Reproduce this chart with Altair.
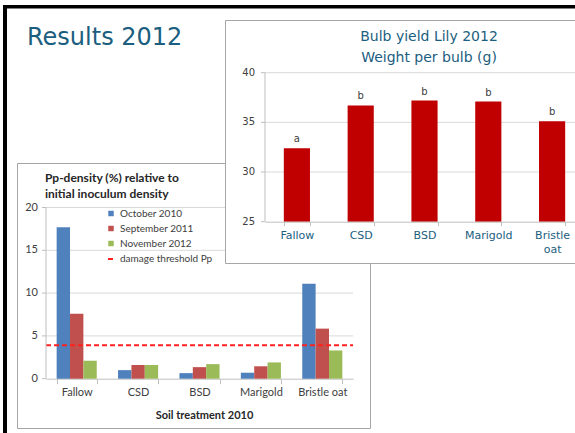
import altair as alt
import pandas as pd

# ---------------- data ----------------
pp_categories = ["Fallow", "CSD", "BSD", "Marigold", "Bristle oat"]
pp_series = ["October 2010", "September 2011", "November 2012"]
pp_oct_2010 = [17.7, 1.0, 0.65, 0.7, 11.1]
pp_sep_2011 = [7.6, 1.6, 1.35, 1.45, 5.85]
pp_nov_2012 = [2.1, 1.6, 1.7, 1.9, 3.3]
pp_threshold_label = ["damage threshold Pp"]
pp_threshold = [3.9]
pp_y_ticks = [0, 5, 10, 15, 20]
pp_colors = ["#4F81BD", "#C0504D", "#9BBB59"]

bulb_categories = ["Fallow", "CSD", "BSD", "Marigold", "Bristle oat"]
bulb_weight = [32.4, 36.7, 37.2, 37.1, 35.1]
bulb_letters = ["a", "b", "b", "b", "b"]
bulb_y_ticks = [25, 30, 35, 40]

# ---------------- layout (pixels) ----------------
W, H = 575, 433
PP_X0, PP_X1 = 46, 353
PP_YB, PP_YT = 378.7, 207.5
BU_X0, BU_X1 = 265, 584
BU_YB, BU_YT = 221.7, 72.7

TEAL = "#1B5E80"
GRID = "#D9D9D9"
AX = "#BFBFBF"
BOX = "#A6A6A6"

one = alt.Data(values=[{}])


def rect(x, x2, y, y2, fill, stroke=None):
    kw = dict(fill=fill)
    if stroke:
        kw.update(stroke=stroke, strokeWidth=1)
    return alt.Chart(one).mark_rect(**kw).encode(
        x=alt.value(x), x2=alt.value(x2), y=alt.value(y), y2=alt.value(y2))


def label(txt, x, y, font, size, color, weight="normal", align="left"):
    return alt.Chart(one).mark_text(
        text=txt, font=font, fontSize=size, color=color, fontWeight=weight,
        align=align, baseline="middle").encode(x=alt.value(x), y=alt.value(y))


def y_axis_layers(ticks, scale, x_axis, label_x, font, size):
    """Left value axis drawn through the chart's own y scale."""
    tdf = pd.DataFrame({"v": ticks})
    ticks_l = alt.Chart(tdf).mark_rule(color=AX, strokeWidth=1).encode(
        y=alt.Y("v:Q", scale=scale, axis=None),
        x=alt.value(x_axis - 4), x2=alt.value(x_axis))
    dom = alt.Chart(pd.DataFrame({"a": [min(ticks)], "b": [max(ticks)]})).mark_rule(
        color=AX, strokeWidth=1).encode(
        y=alt.Y("a:Q", scale=scale, axis=None), y2="b:Q", x=alt.value(x_axis))
    labs = alt.Chart(tdf).mark_text(
        align="right", baseline="middle", font=font, fontSize=size,
        color="#404040").encode(
        y=alt.Y("v:Q", scale=scale, axis=None), x=alt.value(label_x),
        text=alt.Text("v:Q"))
    return [ticks_l, dom, labs]


# ---------------- slide decoration ----------------
black_left = rect(3, 7, 5, H, "black")
black_top = rect(3, W, 5, 8.5, "black")
results = alt.Chart(one).mark_text(
    text="Results 2012", font="DejaVu Sans", fontSize=24, color=TEAL,
    align="left", baseline="alphabetic").encode(x=alt.value(27), y=alt.value(45))

# ---------------- Pp-density chart ----------------
pp_box = alt.Chart(one).mark_rect(fill=None, stroke=BOX, strokeWidth=1).encode(
    x=alt.value(17.5), x2=alt.value(370.5), y=alt.value(163.5), y2=alt.value(428.5))
pp_t1 = label("Pp-density (%) relative to", 45, 177.5, "Lato", 12, "#262626", "bold")
pp_t2 = label("initial inoculum density", 45, 193.5, "Lato", 12, "#262626", "bold")

pp_rows = []
for i, c in enumerate(pp_categories):
    for s, vals in zip(pp_series, [pp_oct_2010, pp_sep_2011, pp_nov_2012]):
        pp_rows.append({"category": c, "series": s, "value": vals[i]})
pp_df = pd.DataFrame(pp_rows)

pp_y_scale = alt.Scale(domain=[0, 20], range=[PP_YB, PP_YT], nice=False)

pp_grid = alt.Chart(pd.DataFrame({"v": pp_y_ticks[1:]})).mark_rule(
    color=GRID, strokeWidth=1).encode(
    y=alt.Y("v:Q", scale=pp_y_scale, axis=None),
    x=alt.value(PP_X0), x2=alt.value(PP_X1))

pp_bars = alt.Chart(pp_df).mark_bar().encode(
    x=alt.X("category:N", sort=pp_categories,
            scale=alt.Scale(domain=pp_categories, range=[PP_X0, PP_X1],
                            paddingInner=0.347, paddingOuter=0.1735),
            axis=alt.Axis(orient="bottom", offset=PP_YB - H, title="Soil treatment 2010",
                          titleFont="Lato", titleFontSize=11, titleFontWeight="bold",
                          titleColor="#262626", titleX=204, titleY=36.5,
                          titleBaseline="middle", titleAlign="center",
                          labelFont="Lato", labelFontSize=11, labelColor="#404040",
                          labelAngle=0, labelPadding=3, tickSize=5, tickColor=AX,
                          domainColor=AX, tickBand="extent", grid=False)),
    xOffset=alt.XOffset("series:N", sort=pp_series,
                        scale=alt.Scale(domain=pp_series, paddingInner=0, paddingOuter=0)),
    y=alt.Y("value:Q", scale=pp_y_scale, axis=None),
    color=alt.Color("series:N", sort=pp_series,
                    scale=alt.Scale(domain=pp_series, range=pp_colors),
                    legend=alt.Legend(orient="none", legendX=106, legendY=208.5, title=None,
                                      symbolType="square", symbolSize=30,
                                      symbolStrokeWidth=0, labelFont="Lato",
                                      labelFontSize=10, labelColor="#404040",
                                      rowPadding=5, labelOffset=4, padding=0)),
)

pp_thr = alt.Chart(pd.DataFrame({"label": pp_threshold_label, "v": pp_threshold})).mark_rule(
    color="#FF2020", strokeWidth=2).encode(
    y=alt.Y("v:Q", scale=pp_y_scale, axis=None),
    x=alt.value(PP_X0), x2=alt.value(PP_X1),
    strokeDash=alt.StrokeDash("label:N",
                              scale=alt.Scale(domain=pp_threshold_label, range=[[5, 3]]),
                              legend=alt.Legend(orient="none", legendX=106, legendY=254,
                                                title=None, symbolType="stroke",
                                                symbolSize=36, symbolStrokeWidth=2,
                                                symbolStrokeColor="#FF2020",
                                                labelFont="Lato", labelFontSize=10,
                                                labelColor="#404040", labelOffset=4,
                                                padding=0)))

pp_chart = alt.layer(pp_grid, pp_bars, pp_thr,
                     *y_axis_layers(pp_y_ticks, pp_y_scale, PP_X0, 38, "Lato", 11))

# ---------------- Bulb yield chart ----------------
bu_box = rect(225.5, 620, 20.5, 263.5, "white", BOX)
bu_t1 = label("Bulb yield Lily 2012", 429, 36.5, "DejaVu Sans", 14, TEAL, align="center")
bu_t2 = label("Weight per bulb (g)", 429, 57.5, "DejaVu Sans", 14, TEAL, align="center")

bu_df = pd.DataFrame({"category": bulb_categories, "weight": bulb_weight,
                      "letter": bulb_letters})
bu_y_scale = alt.Scale(domain=[25, 40], range=[BU_YB, BU_YT], nice=False, zero=False)
bu_x_scale = alt.Scale(domain=bulb_categories, range=[BU_X0, BU_X1],
                       paddingInner=0.59, paddingOuter=0.295)

bu_grid = alt.Chart(pd.DataFrame({"v": bulb_y_ticks[1:]})).mark_rule(
    color=GRID, strokeWidth=1).encode(
    y=alt.Y("v:Q", scale=bu_y_scale, axis=None),
    x=alt.value(BU_X0), x2=alt.value(620))

bu_bars = alt.Chart(bu_df).mark_bar(color="#C00000").encode(
    x=alt.X("category:N", sort=bulb_categories, scale=bu_x_scale,
            axis=alt.Axis(orient="bottom", offset=BU_YB - H, title=None,
                          labelFont="DejaVu Sans", labelFontSize=11, labelColor=TEAL,
                          labelAngle=0, labelPadding=4, labelLineHeight=14,
                          labelExpr="split(datum.label, ' ')",
                          tickSize=4, tickColor=AX, domainColor=AX,
                          tickBand="extent", grid=False, zindex=1)),
    y=alt.Y("weight:Q", scale=bu_y_scale, axis=None),
    y2=alt.datum(25),
)

bu_letters = alt.Chart(bu_df).mark_text(
    font="DejaVu Sans", fontSize=10, color="#404040", baseline="alphabetic", dy=-6).encode(
    x=alt.X("category:N", sort=bulb_categories, scale=bu_x_scale),
    y=alt.Y("weight:Q", scale=bu_y_scale, axis=None),
    text="letter:N")

bu_chart = alt.layer(bu_grid, bu_bars, bu_letters,
                     *y_axis_layers(bulb_y_ticks, bu_y_scale, BU_X0, 255, "DejaVu Sans", 10))

chart = alt.layer(
    black_left, black_top, results,
    pp_box, pp_t1, pp_t2, pp_chart,
    bu_box, bu_t1, bu_t2, bu_chart,
).resolve_scale(x="independent", y="independent").properties(
    width=W, height=H, padding=0, autosize=alt.AutoSizeParams(type="none"),
).configure_view(stroke=None)

chart.save("out.html", embed_options={"renderer": "svg", "actions": False})
